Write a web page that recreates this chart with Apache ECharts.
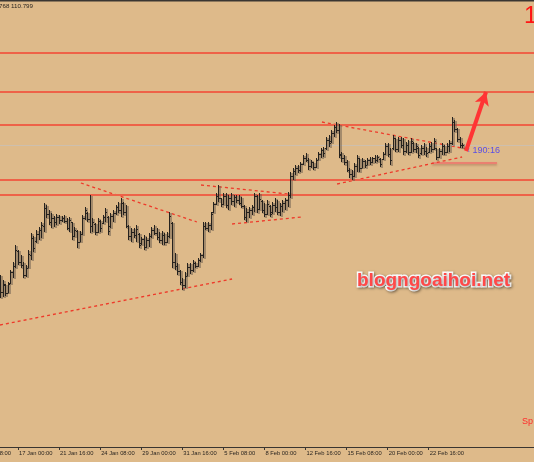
<!DOCTYPE html>
<html><head><meta charset="utf-8">
<script src="https://cdn.jsdelivr.net/npm/echarts@6/dist/echarts.min.js"></script>
<style>html,body{margin:0;padding:0;background:#deba8a;}#c{width:534px;height:462px;}</style>
</head><body><div id="c"></div>
<script>
// H4 bars (index 0 = 15 Jan 20:00, index 7 = 17 Jan 00:00)
const opens = [
109.45,109.33,109.40,109.32,109.42,109.53,109.59,109.74,109.63,109.60,
109.50,109.57,109.70,109.87,109.84,109.91,109.95,109.99,110.17,110.11,
110.03,110.07,110.03,110.08,110.05,110.07,110.04,109.97,110.03,109.89,
109.94,109.83,109.91,110.07,110.12,110.06,109.99,110.01,109.93,110.04,
110.02,110.08,110.08,109.99,110.09,110.12,110.18,110.15,110.22,110.13,
109.99,109.89,109.93,109.90,109.91,109.82,109.86,109.78,109.85,109.89,
109.95,109.92,109.88,109.85,109.90,109.83,109.89,110.02,109.63,109.59,
109.54,109.43,109.40,109.49,109.58,109.55,109.62,109.59,109.65,109.70,
109.99,109.97,110.00,110.13,110.21,110.29,110.27,110.21,110.29,110.20,
110.27,110.24,110.28,110.25,110.22,110.19,110.08,110.13,110.15,110.18,
110.29,110.16,110.24,110.15,110.11,110.19,110.13,110.20,110.18,110.13,
110.19,110.22,110.25,110.30,110.49,110.54,110.57,110.55,110.61,110.67,
110.65,110.59,110.63,110.58,110.65,110.71,110.75,110.77,110.85,110.84,
110.92,110.98,110.95,110.70,110.67,110.63,110.55,110.51,110.49,110.59,
110.67,110.57,110.64,110.60,110.65,110.63,110.67,110.65,110.66,110.66,
110.71,110.79,110.71,110.77,110.87,110.76,110.85,110.80,110.74,110.80,
110.73,110.82,110.76,110.77,110.72,110.77,110.74,110.73,110.79,110.76,
110.77,110.68,110.74,110.79,110.73,110.79,110.82,111.03,110.96,110.86,
110.80];
const highs = [
109.50,109.45,109.41,109.43,109.55,109.63,109.80,109.75,109.70,109.63,
109.60,109.75,109.92,109.89,109.95,109.98,110.03,110.22,110.20,110.15,
110.12,110.09,110.11,110.10,110.09,110.10,110.07,110.08,110.03,109.98,
109.95,109.94,110.10,110.18,110.13,110.30,110.07,110.02,110.07,110.05,
110.10,110.17,110.09,110.12,110.15,110.20,110.23,110.27,110.23,110.20,
110.00,109.97,109.97,110.00,109.92,109.88,109.90,109.88,109.92,109.98,
110.00,109.97,109.93,109.94,109.92,109.93,110.13,110.03,109.72,109.62,
109.55,109.47,109.53,109.62,109.62,109.65,109.63,109.67,109.72,110.03,
110.03,110.03,110.13,110.23,110.32,110.40,110.27,110.32,110.32,110.30,
110.32,110.30,110.30,110.30,110.28,110.20,110.17,110.18,110.20,110.32,
110.30,110.32,110.25,110.22,110.25,110.20,110.23,110.27,110.25,110.22,
110.25,110.27,110.33,110.53,110.57,110.60,110.60,110.63,110.70,110.72,
110.67,110.65,110.63,110.67,110.73,110.77,110.78,110.88,110.90,110.95,
111.00,111.03,111.01,110.73,110.70,110.65,110.57,110.55,110.62,110.70,
110.67,110.67,110.65,110.67,110.68,110.68,110.70,110.70,110.67,110.73,
110.82,110.82,110.77,110.90,110.87,110.88,110.88,110.87,110.83,110.85,
110.87,110.83,110.82,110.78,110.80,110.82,110.78,110.82,110.83,110.87,
110.77,110.77,110.82,110.80,110.82,110.85,111.08,111.05,110.97,110.88,
110.82];
const lows = [
109.27,109.28,109.29,109.32,109.41,109.47,109.57,109.60,109.57,109.47,
109.48,109.57,109.65,109.73,109.82,109.85,109.87,109.93,110.07,110.00,
109.97,109.98,110.00,110.01,110.03,110.02,109.95,109.93,109.85,109.88,
109.77,109.83,109.90,110.05,110.03,109.92,109.93,109.90,109.92,109.93,
110.01,110.03,109.90,109.97,110.03,110.10,110.12,110.08,110.10,109.97,
109.85,109.83,109.87,109.83,109.77,109.80,109.75,109.77,109.78,109.87,
109.90,109.85,109.82,109.80,109.80,109.82,109.87,109.57,109.55,109.50,
109.40,109.35,109.37,109.49,109.51,109.53,109.57,109.58,109.63,109.67,
109.95,109.93,109.95,110.12,110.20,110.23,110.18,110.20,110.17,110.15,
110.20,110.18,110.22,110.20,110.17,110.05,110.03,110.07,110.10,110.13,
110.12,110.15,110.12,110.08,110.10,110.08,110.11,110.13,110.10,110.09,
110.13,110.15,110.18,110.27,110.45,110.50,110.52,110.53,110.60,110.63,
110.55,110.57,110.55,110.57,110.65,110.67,110.68,110.75,110.78,110.82,
110.88,110.92,110.67,110.63,110.60,110.53,110.47,110.45,110.48,110.53,
110.53,110.57,110.57,110.60,110.60,110.62,110.62,110.63,110.58,110.65,
110.70,110.68,110.60,110.75,110.73,110.73,110.77,110.70,110.72,110.70,
110.72,110.73,110.72,110.67,110.70,110.70,110.68,110.72,110.73,110.75,
110.65,110.67,110.70,110.70,110.72,110.73,110.80,110.93,110.83,110.77,
110.768];
const closes = [
109.33,109.41,109.32,109.41,109.53,109.59,109.75,109.63,109.60,109.50,
109.57,109.71,109.87,109.77,109.91,109.95,110.00,110.17,110.11,110.03,
110.07,110.03,110.08,110.05,110.07,110.04,109.97,110.05,109.89,109.95,
109.83,109.91,110.07,110.15,110.06,109.99,110.03,109.93,110.04,109.97,
110.08,110.13,109.94,110.09,110.12,110.18,110.15,110.22,110.13,109.99,
109.89,109.93,109.90,109.96,109.80,109.86,109.78,109.85,109.89,109.95,
109.92,109.88,109.85,109.90,109.83,109.89,110.09,109.63,109.59,109.54,
109.43,109.40,109.49,109.58,109.55,109.62,109.59,109.65,109.70,109.99,
109.97,110.00,110.11,110.21,110.29,110.27,110.21,110.29,110.20,110.27,
110.24,110.28,110.25,110.22,110.19,110.08,110.13,110.15,110.18,110.29,
110.16,110.26,110.15,110.11,110.21,110.11,110.20,110.18,110.13,110.19,
110.22,110.25,110.30,110.49,110.54,110.57,110.55,110.61,110.67,110.65,
110.59,110.63,110.58,110.65,110.71,110.75,110.72,110.85,110.82,110.92,
110.98,110.95,110.71,110.67,110.63,110.55,110.51,110.49,110.59,110.67,
110.57,110.64,110.60,110.65,110.63,110.67,110.65,110.68,110.61,110.71,
110.79,110.71,110.65,110.87,110.76,110.85,110.80,110.74,110.80,110.73,
110.84,110.76,110.79,110.70,110.77,110.74,110.72,110.79,110.76,110.84,
110.68,110.74,110.79,110.73,110.79,110.82,111.03,110.96,110.86,110.80,
110.799];

const tickLabels = ["17 Jan 00:00","21 Jan 16:00","24 Jan 08:00","29 Jan 00:00","31 Jan 16:00",
  "5 Feb 08:00","8 Feb 00:00","12 Feb 16:00","15 Feb 08:00","20 Feb 00:00","22 Feb 16:00"];
const leftCutLabel = "14 Jan 08:00";
const firstTickIndex = 7, tickStep = 16, slotCount = 209;

// horizontal levels
const redLevels = [111.72, 111.33, 111.00, 110.45, 110.30];
const bidLevel = 110.799;
// dotted trend lines [ [index, price], [index, price] ]
const trendLines = [
  [[31.5, 110.42], [76.7, 110.03]],
  [[0, 109.00], [90.4, 109.46]],
  [[78.3, 110.40], [116.1, 110.30]],
  [[90.4, 110.01], [117.6, 110.08]],
  [[125.4, 111.03], [181.9, 110.76]],
  [[131.3, 110.41], [180.0, 110.68]]
];
const shortSegment = [[168.3, 110.62], [193.6, 110.62]];
const arrowLine = [[181.5, 110.74], [189.3, 111.33]];
const headerText = "768 110.799";
const timerText = "190:16";

const months = ["Jan","Feb","Mar"];
const categories = [];
(function(){
  let t = Date.UTC(2019,0,15,20);
  for (let i=0;i<slotCount;i++){
    const d = new Date(t);
    categories.push(d.getUTCDate()+" "+months[d.getUTCMonth()]+" "+String(d.getUTCHours()).padStart(2,"0")+":00");
    t += 4*3600e3;
    const n = new Date(t);
    if (n.getUTCDay()===6) t += 48*3600e3;
  }
})();
const isTick = (idx) => idx>=firstTickIndex && (idx-firstTickIndex)%tickStep===0 && (idx-firstTickIndex)/tickStep < tickLabels.length;

const bars = opens.map((o,i)=>[i,o,highs[i],lows[i],closes[i]]);

const chart = echarts.init(document.getElementById('c'), null, {renderer:'canvas'});
const series = [];
series.push({
  type:'custom', xAxisIndex:1, yAxisIndex:0, data:bars, encode:{x:0,y:[1,2,3,4]}, silent:true, z:5,
  renderItem:function(params, api){
    const i=api.value(0), o=api.value(1), h=api.value(2), l=api.value(3), c=api.value(4);
    const pH=api.coord([i,h]), pL=api.coord([i,l]), pO=api.coord([i,o]), pC=api.coord([i,c]);
    const x=Math.round(pH[0])+0.5;
    const sh='rgba(105,92,78,0.5)', main='#26221e';
    const mk=(x1,y1,x2,y2,col,w)=>({type:'line',shape:{x1,y1,x2,y2},style:{stroke:col,lineWidth:w}});
    return {type:'group',children:[
      mk(x+1.3,pH[1]+1,x+1.3,pL[1]+1,sh,2.4),
      mk(x,pH[1],x,pL[1],main,1),
      mk(x-1.5,Math.round(pO[1])+0.5,x,Math.round(pO[1])+0.5,main,1),
      mk(x,Math.round(pC[1])+0.5,x+1.5,Math.round(pC[1])+0.5,main,1)
    ]};
  },
  markLine:{silent:true,symbol:'none',label:{show:false},animation:false,
    data:[...redLevels.map(v=>({yAxis:v,lineStyle:{color:'#ee6248',width:2,type:'solid'}})),
          {yAxis:bidLevel,lineStyle:{color:'#cdbfae',width:1,type:'solid'}}]}
});
trendLines.forEach(tl=>series.push({
  type:'line', xAxisIndex:1, data:tl, symbol:'none', silent:true, z:4, animation:false,
  lineStyle:{color:'#ee3a2a',width:1.3,type:[3,3]}
}));
series.push({type:'line',xAxisIndex:1,data:shortSegment,symbol:'none',silent:true,z:3,animation:false,
  lineStyle:{color:'#ea8070',width:2,shadowColor:'rgba(120,60,40,0.35)',shadowBlur:2,shadowOffsetY:1.5}});
series.push({type:'line',xAxisIndex:1,data:[],symbol:'none',silent:true,z:6,
  markLine:{silent:true,animation:false,symbol:['none','arrow'],symbolSize:[11,13],label:{show:false},
    lineStyle:{color:'#ff3434',width:4,type:'solid'},
    data:[[{coord:arrowLine[0]},{coord:arrowLine[1]}]]}});

chart.setOption({
  backgroundColor:'#deba8a',
  animation:false,
  grid:{left:0,right:0,top:3,bottom:15,containLabel:false,outerBoundsMode:'none'},
  xAxis:[
    {type:'category',data:categories,boundaryGap:false,
     axisLine:{lineStyle:{color:'#3a3530',width:1}},
     axisTick:{interval:(i)=>isTick(i),length:3,lineStyle:{color:'#3a3530'}},
     axisLabel:{interval:(i)=>isTick(i),formatter:(v,i)=>tickLabels[(i-firstTickIndex)/tickStep],
       align:'left',margin:3,padding:[0,0,0,1],fontSize:5.8,color:'#2a2520',fontFamily:'Liberation Sans'},
     splitLine:{show:false}},
    {type:'value',min:0,max:slotCount-1,show:false}
  ],
  yAxis:{type:'value',min:107.78,max:112.22,show:false,splitLine:{show:false}},
  series:series,
  graphic:[
    {type:'rect',shape:{x:0,y:0,width:534,height:1.5},style:{fill:'#3a3632'},silent:true},
    {type:'text',left:-1,top:3,style:{text:headerText,fontSize:6.2,fill:'#2a2520',fontFamily:'Liberation Sans'}},
    {type:'text',x:-22.5,y:450,style:{text:leftCutLabel,fontSize:5.8,fill:'#2a2520',fontFamily:'Liberation Sans'}},
    {type:'text',x:524,y:4,style:{text:'1',fontSize:24,fill:'#ff1414',fontFamily:'Liberation Sans'}},
    {type:'text',x:522,y:417,style:{text:'Sp',fontSize:9,fill:'#ff2a2a',fontFamily:'Liberation Sans'}},
    {type:'text',x:467,y:146.5,style:{text:'‹ '+timerText,fontSize:9,fill:'#5a4ee6',fontFamily:'Liberation Sans'}},
    {type:'text',x:357,y:271,style:{text:'blogngoaihoi.net',fontSize:19,fontWeight:'bold',fill:'#ff4848',
      fontFamily:'Liberation Sans',stroke:'#ffffff',lineWidth:3,
      textShadowColor:'rgba(0,0,0,0.4)',textShadowBlur:3,textShadowOffsetX:1,textShadowOffsetY:1}}
  ]
});
</script></body></html>
